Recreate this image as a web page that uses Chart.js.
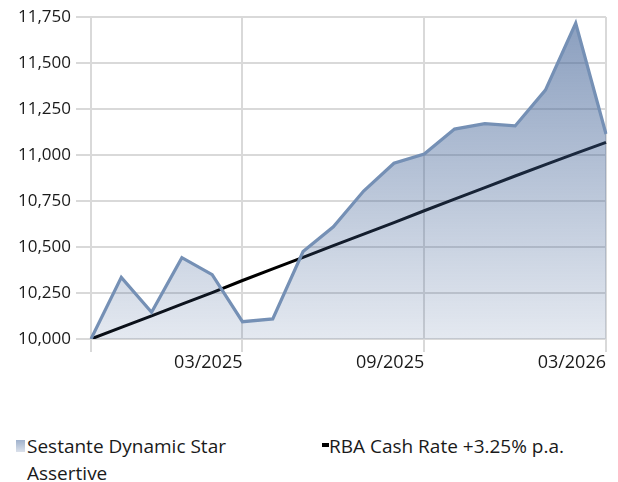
<!DOCTYPE html>
<html>
<head>
<meta charset="utf-8">
<script src="https://cdn.jsdelivr.net/npm/chart.js@4/dist/chart.umd.min.js"></script>
<style>
  body { margin: 0; background: #fff; }
  #wrap { position: relative; width: 618px; height: 482px; font-family: "Open Sans", sans-serif; color: #1a1a1a; }
  #legend .item { position: absolute; font-size: 19px; line-height: 27px; }
  #legend .swatch { position: absolute; }
</style>
</head>
<body>
<div id="wrap">
  <canvas id="myChart1" width="618" height="400"></canvas>
  <div id="legend"></div>
</div>
<script>
  // Data
  const months = ['10/2024', '11/2024', '12/2024', '01/2025', '02/2025', '03/2025', '04/2025', '05/2025', '06/2025',
    '07/2025', '08/2025', '09/2025', '10/2025', '11/2025', '12/2025', '01/2026', '02/2026', '03/2026'];
  const fundValues = [10000, 10335, 10145, 10442, 10350, 10094, 10109, 10475, 10610,
    10804, 10955, 11005, 11141, 11170, 11158, 11353, 11716, 11114];
  const rbaValues = [10000, 10063, 10126, 10189, 10252, 10318, 10381, 10444, 10507,
    10570, 10633, 10697, 10760, 10823, 10886, 10948, 11009, 11069];
  const xTickLabels = ['03/2025', '09/2025', '03/2026'];
  const seriesNames = ['Sestante Dynamic Star Assertive', 'RBA Cash Rate +3.25% p.a.'];

  const gridColor = '#d9d9d9';
  const showGrid = (i) => i === 0 || xTickLabels.includes(months[i]);

  const config1 = {
    type: 'line',
    data: {
      labels: months,
      datasets: [
        {
          label: seriesNames[0],
          data: fundValues,
          borderColor: '#7590b5',
          borderWidth: 3.2,
          pointRadius: 0,
          tension: 0,
          fill: 'start',
          backgroundColor: (ctx) => {
            const area = ctx.chart.chartArea;
            if (!area) return 'rgba(70,100,150,0.3)';
            const g = ctx.chart.ctx.createLinearGradient(0, area.top, 0, area.bottom);
            g.addColorStop(0, 'rgba(65,98,150,0.62)');
            g.addColorStop(1, 'rgba(65,98,150,0.14)');
            return g;
          }
        },
        {
          label: seriesNames[1],
          data: rbaValues,
          borderColor: '#000',
          borderWidth: 3,
          pointRadius: 0,
          tension: 0,
          fill: false
        }
      ]
    },
    options: {
      responsive: false,
      animation: false,
      layout: { padding: { top: 17, right: 12, left: 0, bottom: 0 } },
      plugins: {
        legend: { display: false },
        tooltip: { enabled: false }
      },
      scales: {
        x: {
          offset: false,
          border: { color: gridColor, width: 2 },
          grid: {
            color: (c) => showGrid(c.index) ? gridColor : 'transparent',
            lineWidth: 2,
            tickLength: 13
          },
          ticks: {
            autoSkip: false,
            maxRotation: 0,
            align: 'end',
            padding: 0,
            color: '#1a1a1a',
            font: { family: 'Open Sans', size: 18 },
            callback: function (val) {
              const lab = this.getLabelForValue(val);
              return xTickLabels.includes(lab) ? lab : '';
            }
          },
          afterFit: (s) => { s.height = 61; }
        },
        y: {
          min: 10000,
          max: 11750,
          border: { color: gridColor, width: 2 },
          grid: { color: gridColor, lineWidth: 2, tickLength: 15 },
          ticks: {
            stepSize: 250,
            padding: 5,
            color: '#1a1a1a',
            font: { family: 'Open Sans', size: 17 },
            callback: (v) => v.toLocaleString('en-US')
          },
          afterFit: (s) => { s.width = 91; }
        }
      }
    }
  };

  const ctx = document.getElementById('myChart1').getContext('2d');
  const myChart1 = new Chart(ctx, config1);

  // HTML legend (first label wraps onto two lines like the original)
  const legend = document.getElementById('legend');
  legend.innerHTML =
    '<div class="swatch" style="left:16px;top:440px;width:9px;height:12px;background:linear-gradient(#9fb1cc,#dbe1eb);"></div>' +
    '<div class="item" style="left:27px;top:433px;width:225px;">' + seriesNames[0] + '</div>' +
    '<div class="swatch" style="left:322px;top:443px;width:7px;height:4px;background:#000;"></div>' +
    '<div class="item" style="left:329px;top:433px;white-space:nowrap;">' + seriesNames[1] + '</div>';
</script>
</body>
</html>
